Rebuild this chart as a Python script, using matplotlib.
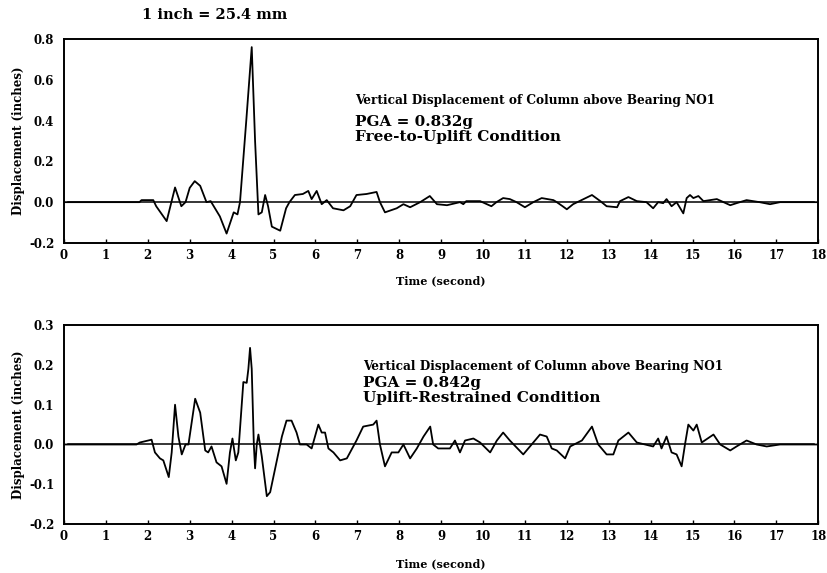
import matplotlib
matplotlib.use("Agg")
import matplotlib.pyplot as plt
import numpy as np

plt.rcParams['font.family'] = ['DejaVu Serif']
plt.rcParams['font.weight'] = 'bold'

# ---- data: Free-to-Uplift condition (top) ----
t_free = [0.0, 1.8, 1.85, 2.13, 2.2, 2.45, 2.65, 2.8, 2.9, 3.0, 3.12, 3.25, 3.4, 3.5, 3.72, 3.88,
          4.05, 4.14, 4.2, 4.35, 4.48, 4.56, 4.64, 4.72, 4.8, 4.87, 4.96, 5.16, 5.3, 5.38,
          5.51, 5.7, 5.83, 5.91, 6.03, 6.15, 6.27, 6.42, 6.67, 6.83, 6.98, 7.22, 7.46,
          7.54, 7.66, 7.94, 8.1, 8.26, 8.5, 8.73, 8.9, 9.14, 9.45, 9.53, 9.6, 9.93,
          10.2, 10.32, 10.48, 10.64, 10.8, 11.0, 11.2, 11.4, 11.68, 11.76, 11.9, 12.0,
          12.15, 12.3, 12.6, 12.8, 12.95, 13.2, 13.27, 13.47, 13.67, 13.9, 14.06, 14.18,
          14.3, 14.38, 14.5, 14.62, 14.78, 14.86, 14.94, 15.02, 15.14, 15.26, 15.58,
          15.74, 15.9, 16.05, 16.29, 16.6, 16.85, 17.09, 18.0]
d_free = [0.0, 0.0, 0.01, 0.01, -0.02, -0.093, 0.072, -0.02, 0.0, 0.07, 0.103, 0.08, 0.0, 0.005, -0.07, -0.154,
          -0.05, -0.06, 0.0, 0.4, 0.76, 0.3, -0.06, -0.05, 0.035, -0.02, -0.12, -0.14, -0.03, 0.0,
          0.035, 0.04, 0.055, 0.015, 0.055, -0.01, 0.01, -0.03, -0.04, -0.02, 0.035, 0.04, 0.05,
          0.0, -0.05, -0.03, -0.01, -0.025, 0.0, 0.03, -0.01, -0.015, 0.0, -0.01, 0.005, 0.005,
          -0.02, 0.0, 0.02, 0.015, 0.0, -0.025, 0.0, 0.02, 0.01, 0.0, -0.02, -0.035,
          -0.01, 0.005, 0.035, 0.005, -0.02, -0.025, 0.005, 0.025, 0.005, 0.0, -0.03, 0.0,
          -0.005, 0.015, -0.02, 0.0, -0.055, 0.02, 0.035, 0.02, 0.03, 0.005, 0.015,
          0.0, -0.015, -0.005, 0.01, 0.0, -0.01, 0.0, 0.0]

# ---- data: Uplift-Restrained condition (bottom) ----
t_rest = [0.0, 1.73, 1.81, 2.09, 2.17, 2.29, 2.37, 2.5, 2.57, 2.65, 2.73, 2.81, 2.9, 2.97,
          3.13, 3.25, 3.37, 3.44, 3.52, 3.64, 3.76, 3.88, 3.96, 4.02, 4.1, 4.16, 4.28,
          4.36, 4.4, 4.44, 4.48, 4.53, 4.56, 4.6, 4.64, 4.72, 4.84, 4.92, 5.08, 5.2,
          5.31, 5.43, 5.55, 5.63, 5.79, 5.91, 5.99, 6.07, 6.15, 6.23, 6.31, 6.43, 6.59,
          6.75, 6.98, 7.14, 7.38, 7.46, 7.54, 7.66, 7.82, 7.98, 8.1, 8.26, 8.42, 8.58,
          8.74, 8.81, 8.93, 9.21, 9.33, 9.45, 9.57, 9.77, 9.93, 10.17, 10.33, 10.48,
          10.64, 10.96, 11.16, 11.36, 11.52, 11.64, 11.76, 11.96, 12.08, 12.36, 12.6,
          12.75, 12.95, 13.11, 13.23, 13.47, 13.67, 14.06, 14.18, 14.26, 14.38, 14.5,
          14.62, 14.74, 14.82, 14.9, 15.02, 15.1, 15.22, 15.5, 15.66, 15.9, 16.05, 16.29,
          16.53, 16.77, 17.09, 18.0]
d_rest = [0.0, 0.0, 0.005, 0.012, -0.02, -0.035, -0.04, -0.082, -0.02, 0.1, 0.02, -0.025, 0.0, 0.0,
          0.115, 0.08, -0.015, -0.02, -0.005, -0.045, -0.055, -0.099, -0.02, 0.015, -0.04, -0.02, 0.157,
          0.155, 0.19, 0.243, 0.19, 0.0, -0.06, 0.0, 0.025, -0.03, -0.13, -0.12, -0.04, 0.02,
          0.06, 0.06, 0.03, 0.0, 0.0, -0.01, 0.02, 0.05, 0.03, 0.03, -0.01, -0.02, -0.04,
          -0.035, 0.01, 0.045, 0.05, 0.06, 0.0, -0.055, -0.02, -0.02, 0.0, -0.035, -0.01, 0.02,
          0.045, 0.0, -0.01, -0.01, 0.01, -0.02, 0.01, 0.015, 0.005, -0.02, 0.01, 0.03,
          0.01, -0.025, 0.0, 0.025, 0.02, -0.01, -0.015, -0.035, -0.005, 0.01, 0.045,
          0.0, -0.025, -0.025, 0.01, 0.03, 0.005, -0.005, 0.015, -0.01, 0.02, -0.02,
          -0.025, -0.055, 0.0, 0.05, 0.035, 0.05, 0.005, 0.025, 0.0, -0.015, -0.005, 0.01,
          0.0, -0.005, 0.0, 0.0]

x_ticks = list(range(0, 19))
y_ticks_top = [-0.2, 0.0, 0.2, 0.4, 0.6, 0.8]
y_ticks_bot = [-0.2, -0.1, 0.0, 0.1, 0.2, 0.3]

title_text = "1 inch = 25.4 mm"
ann_line1 = "Vertical Displacement of Column above Bearing NO1"
ann_top = ["PGA = 0.832g", "Free-to-Uplift Condition"]
ann_bot = ["PGA = 0.842g", "Uplift-Restrained Condition"]

fig = plt.figure(figsize=(8.27, 5.73), dpi=100)
ax1 = fig.add_axes([0.0774, 0.576, 0.912, 0.356])
ax2 = fig.add_axes([0.0774, 0.0855, 0.912, 0.347])

def style(ax, yticks, xlab_y):
    ax.set_xlim(0, 18)
    ax.set_ylim(yticks[0], yticks[-1])
    ax.set_xticks(x_ticks)
    ax.set_xticklabels([str(v) for v in x_ticks], fontsize=8.5, fontweight='bold')
    ax.set_yticks(yticks)
    ax.set_yticklabels([f"{v:.1f}" for v in yticks], fontsize=8.5, fontweight='bold')
    ax.tick_params(axis='x', direction='in', length=3, width=1, pad=4)
    ax.tick_params(axis='y', length=0, pad=7)
    for s in ax.spines.values():
        s.set_linewidth(1.4)
    ax.set_xlabel("Time (second)", fontsize=8, fontweight='bold')
    ax.set_ylabel("Displacement (inches)", fontsize=8.5, fontweight='bold')
    ax.xaxis.set_label_coords(0.5, xlab_y)
    ax.yaxis.set_label_coords(-0.052, 0.5)
    ax.axhline(0, color='black', lw=1.1, xmin=0.005, xmax=0.995)

ax1.plot(t_free, d_free, color='black', lw=1.3)
style(ax1, y_ticks_top, -0.157)
ax2.plot(t_rest, d_rest, color='black', lw=1.3)
style(ax2, y_ticks_bot, -0.171)

fig.text(0.26, 0.974, title_text, fontsize=10.5, fontweight='bold', ha='center', va='center')

ax1.text(0.386, 0.70, ann_line1, transform=ax1.transAxes, fontsize=8.7, fontweight='bold', va='center')
ax1.text(0.386, 0.593, ann_top[0], transform=ax1.transAxes, fontsize=11, fontweight='bold', va='center')
ax1.text(0.386, 0.52, ann_top[1], transform=ax1.transAxes, fontsize=11, fontweight='bold', va='center')
ax2.text(0.396, 0.794, ann_line1, transform=ax2.transAxes, fontsize=8.7, fontweight='bold', va='center')
ax2.text(0.396, 0.708, ann_bot[0], transform=ax2.transAxes, fontsize=11, fontweight='bold', va='center')
ax2.text(0.396, 0.633, ann_bot[1], transform=ax2.transAxes, fontsize=11, fontweight='bold', va='center')

fig.savefig("out.png", dpi=100)
